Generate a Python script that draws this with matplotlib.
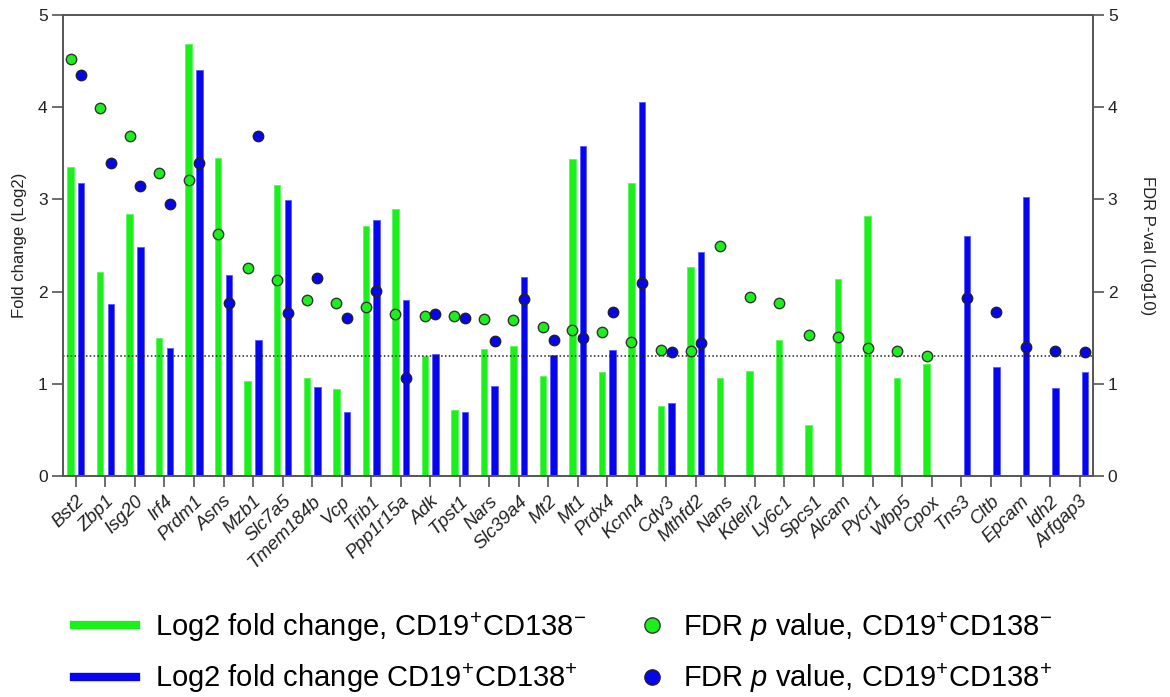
import numpy as np
import matplotlib
matplotlib.use("Agg")
import matplotlib.pyplot as plt
from matplotlib.lines import Line2D

plt.rcParams["font.family"] = ["Liberation Sans", "DejaVu Sans"]
plt.rcParams["mathtext.fontset"] = "custom"
plt.rcParams["mathtext.rm"] = "Liberation Sans"
plt.rcParams["mathtext.it"] = "Liberation Sans:italic"

# -------------------------------------------------------------------
# Data
# -------------------------------------------------------------------
nan = np.nan
genes = ["Bst2", "Zbp1", "Isg20", "Irf4", "Prdm1", "Asns", "Mzb1", "Slc7a5",
         "Tmem184b", "Vcp", "Trib1", "Ppp1r15a", "Adk", "Tpst1", "Nars",
         "Slc39a4", "Mt2", "Mt1", "Prdx4", "Kcnn4", "Cdv3", "Mthfd2", "Nans",
         "Kdelr2", "Ly6c1", "Spcs1", "Alcam", "Pycr1", "Wbp5", "Cpox", "Tns3",
         "Cltb", "Epcam", "Idh2", "Arfgap3"]

fc_neg = [3.35, 2.21, 2.84, 1.50, 4.69, 3.45, 1.03, 3.16, 1.06, 0.94, 2.71,
          2.90, 1.30, 0.72, 1.38, 1.41, 1.08, 3.44, 1.13, 3.18, 0.76, 2.27,
          1.06, 1.14, 1.47, 0.55, 2.14, 2.82, 1.06, 1.22, nan, nan, nan, nan, nan]
fc_pos = [3.18, 1.87, 2.48, 1.39, 4.40, 2.18, 1.48, 2.99, 0.97, 0.69, 2.78,
          1.91, 1.32, 0.69, 0.98, 2.16, 1.31, 3.58, 1.37, 4.06, 0.79, 2.43,
          nan, nan, nan, nan, nan, nan, nan, nan, 2.60, 1.18, 3.03, 0.95, 1.13]
fdr_neg = [4.52, 3.99, 3.69, 3.29, 3.21, 2.63, 2.26, 2.13, 1.91, 1.88, 1.83,
           1.76, 1.74, 1.74, 1.70, 1.69, 1.62, 1.58, 1.56, 1.45, 1.37, 1.36,
           2.50, 1.94, 1.88, 1.53, 1.51, 1.39, 1.36, 1.30, nan, nan, nan, nan, nan]
fdr_pos = [4.35, 3.39, 3.15, 2.95, 3.39, 1.88, 3.69, 1.77, 2.15, 1.71, 2.01,
           1.06, 1.76, 1.71, 1.46, 1.92, 1.48, 1.50, 1.78, 2.09, 1.35, 1.44,
           nan, nan, nan, nan, nan, nan, nan, nan, 1.93, 1.78, 1.40, 1.36, 1.34]
threshold = 1.3

GREEN = "#1cf01c"
BLUE = "#0505f0"
AXIS_GRAY = "#555555"

# -------------------------------------------------------------------
# Plot
# -------------------------------------------------------------------
fig = plt.figure(figsize=(11.70, 6.97), dpi=100)
ax = fig.add_axes([0.0538, 0.317, 0.880, 0.6615])
ax2 = ax.twinx()

x = np.arange(len(genes))
off, w = 0.18, 0.22
ax.bar(x - off, fc_neg, width=w, color=GREEN, edgecolor="#5cf55c", linewidth=0.6)
ax.bar(x + off, fc_pos, width=w, color=BLUE, edgecolor="#5a5aff", linewidth=0.6)

ax2.axhline(threshold, color="#222222", linestyle=(0, (1, 1.5)), linewidth=1.1)
ax2.plot(x - off, fdr_neg, linestyle="none", marker="o", markersize=7.5,
         markerfacecolor=GREEN, markeredgecolor="#333333", markeredgewidth=1.0)
ax2.plot(x + off, fdr_pos, linestyle="none", marker="o", markersize=7.5,
         markerfacecolor=BLUE, markeredgecolor="#222222", markeredgewidth=1.0)

for a in (ax, ax2):
    a.set_xlim(-0.44, len(genes) - 1 + 0.44)
    a.set_ylim(0, 5)
    a.set_yticks([0, 1, 2, 3, 4, 5])
    for s in a.spines.values():
        s.set_color(AXIS_GRAY)
        s.set_linewidth(1.2)
    a.tick_params(axis="y", length=8, width=1.2, color=AXIS_GRAY,
                  labelsize=12.5, labelcolor="#222222", pad=3)

ax.set_xticks(x)
ax.set_xticklabels(genes, rotation=45, ha="right", rotation_mode="anchor",
                   fontstyle="italic", fontsize=13.5, color="#222222")
ax.tick_params(axis="x", length=8, width=1.2, color=AXIS_GRAY, pad=4)

ax.set_ylabel("Fold change (Log2)", fontsize=12, color="#222222", labelpad=8)
ax2.set_ylabel("FDR P-val (Log10)", fontsize=12, color="#222222",
               rotation=270, labelpad=27)

# legend: bars on the left column, dots on the right column
bar_handles = [
    Line2D([], [], color=GREEN, linewidth=6),
    Line2D([], [], color=BLUE, linewidth=6),
]
bar_labels = [
    r"Log2 fold change, CD19$^{+}$CD138$^{-}$",
    r"Log2 fold change CD19$^{+}$CD138$^{+}$",
]
dot_handles = [
    Line2D([], [], linestyle="none", marker="o", markersize=11,
           markerfacecolor=GREEN, markeredgecolor="#333333"),
    Line2D([], [], linestyle="none", marker="o", markersize=11,
           markerfacecolor=BLUE, markeredgecolor="#222222"),
]
dot_labels = [
    r"FDR $p$ value, CD19$^{+}$CD138$^{-}$",
    r"FDR $p$ value, CD19$^{+}$CD138$^{+}$",
]
fig.legend(bar_handles, bar_labels, loc="center left",
           bbox_to_anchor=(0.0536, 0.064), borderaxespad=0, frameon=False,
           fontsize=21, handlelength=2.1, handletextpad=0.68, labelspacing=0.6)
fig.legend(dot_handles, dot_labels, loc="center left",
           bbox_to_anchor=(0.5349, 0.064), borderaxespad=0, frameon=False,
           fontsize=21, handlelength=1.0, handletextpad=0.55, labelspacing=0.6)

fig.savefig("out.png", dpi=100)
